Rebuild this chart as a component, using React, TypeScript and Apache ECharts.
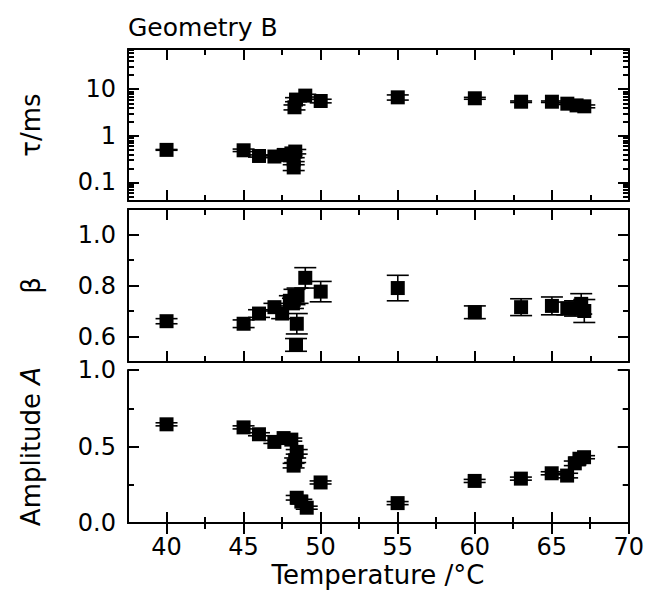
import React, { useEffect, useRef } from "react";
import * as echarts from "echarts";

const FONT = "DejaVu Sans";

// Temperature axis (°C)
const xMin = 37.5;
const xMax = 70;
const xMajorTicks = [40, 45, 50, 55, 60, 65, 70];
const xMinorTicks = [42.5, 47.5, 52.5, 57.5, 62.5, 67.5];

// τ / ms panel (log scale)
const tauTemp = [40, 45, 46, 47, 47.6, 48.1, 48.25, 48.25, 48.35, 48.3, 48.4, 49.0, 50.0, 55, 60, 63, 65, 66, 66.6, 67.1];
const tauValue = [0.5, 0.49, 0.37, 0.36, 0.39, 0.42, 0.31, 0.21, 0.46, 4.1, 6.0, 7.3, 5.6, 6.7, 6.4, 5.4, 5.4, 4.9, 4.5, 4.3];
const tauError = [0.01, 0.03, 0.02, 0.02, 0.03, 0.04, 0.03, 0.03, 0.05, 0.5, 0.6, 0.5, 0.5, 0.85, 0.3, 0.2, 0.2, 0.2, 0.3, 0.3];
const tauMin = 0.04;
const tauMax = 73;
const tauMajorTicks = [0.1, 1, 10];
const tauMinorTicks = [0.05, 0.06, 0.07, 0.08, 0.09, 0.2, 0.3, 0.4, 0.5, 0.6, 0.7, 0.8, 0.9, 2, 3, 4, 5, 6, 7, 8, 9, 20, 30, 40, 50, 60, 70];

// β panel
const betaTemp = [40, 45, 46, 47, 47.5, 48.0, 48.2, 48.3, 48.5, 48.45, 48.4, 49.0, 50.0, 55, 60, 63, 65, 66, 66.5, 66.9, 67.1];
const betaValue = [0.66, 0.65, 0.69, 0.715, 0.69, 0.74, 0.73, 0.755, 0.76, 0.65, 0.567, 0.83, 0.776, 0.79, 0.695, 0.715, 0.72, 0.71, 0.71, 0.728, 0.7];
const betaError = [0.01, 0.015, 0.015, 0.015, 0.02, 0.02, 0.02, 0.03, 0.03, 0.04, 0.025, 0.04, 0.04, 0.05, 0.025, 0.033, 0.035, 0.025, 0.03, 0.04, 0.045];
const betaMin = 0.5;
const betaMax = 1.1;
const betaMajorTicks = [0.6, 0.8, 1.0];
const betaMinorTicks = [0.7, 0.9];

// Amplitude A panel
const ampTemp = [40, 45, 46, 47, 47.6, 48.1, 48.45, 48.35, 48.25, 48.45, 48.75, 49.1, 50.0, 55, 60, 63, 65, 66, 66.5, 66.8, 67.1];
const ampValue = [0.645, 0.625, 0.58, 0.53, 0.555, 0.545, 0.465, 0.41, 0.375, 0.165, 0.14, 0.1, 0.265, 0.13, 0.275, 0.29, 0.325, 0.31, 0.39, 0.42, 0.43];
const ampError = [0.01, 0.01, 0.01, 0.01, 0.01, 0.01, 0.015, 0.015, 0.015, 0.015, 0.015, 0.01, 0.01, 0.01, 0.01, 0.01, 0.01, 0.015, 0.015, 0.01, 0.01];
const ampMin = 0;
const ampMax = 1;
const ampMajorTicks = [0, 0.5, 1.0];
const ampMinorTicks = [0.25, 0.75];

const BLACK = "#000";
const lineStyle = { color: BLACK, width: 2 };

const grids = [
  { left: 128, right: 18, top: 49, height: 152 },
  { left: 128, right: 18, top: 209, height: 153 },
  { left: 128, right: 18, top: 370, height: 153 },
];

function makeXAxes(g: number, showLabels: boolean) {
  const base = { type: "value", gridIndex: g, min: xMin, max: xMax, splitLine: { show: false } };
  const axes: any[] = [];
  for (const position of ["bottom", "top"]) {
    axes.push({
      ...base,
      position,
      axisLine: { show: true, lineStyle },
      axisTick: { show: true, inside: true, length: 11, customValues: xMajorTicks, lineStyle },
      axisLabel: {
        show: showLabels && position === "bottom",
        customValues: xMajorTicks,
        margin: 12,
        fontFamily: FONT,
        fontSize: 24,
        color: BLACK,
      },
    });
    axes.push({
      ...base,
      position,
      axisLine: { show: false },
      axisTick: { show: true, inside: true, length: 6, customValues: xMinorTicks, lineStyle },
      axisLabel: { show: false },
    });
  }
  return axes;
}

function makeYAxes(
  g: number,
  type: string,
  min: number,
  max: number,
  major: number[],
  minor: number[],
  fmt: (v: number) => string,
  name: string,
  nameStyle: any
) {
  const base: any = { type, gridIndex: g, min, max, splitLine: { show: false } };
  if (type === "log") base.logBase = 10;
  const axes: any[] = [];
  for (const position of ["left", "right"]) {
    const isLeft = position === "left";
    axes.push({
      ...base,
      position,
      name: isLeft ? name : "",
      nameLocation: "middle",
      nameRotate: 90,
      nameGap: 84,
      nameTextStyle: nameStyle,
      axisLine: { show: true, lineStyle },
      axisTick: { show: true, inside: true, length: 11, customValues: major, lineStyle },
      axisLabel: {
        show: isLeft,
        customValues: major,
        formatter: (v: number) => fmt(v),
        margin: 12,
        fontFamily: FONT,
        fontSize: 24,
        color: BLACK,
      },
    });
    axes.push({
      ...base,
      position,
      axisLine: { show: false },
      axisTick: { show: true, inside: true, length: 6, customValues: minor, lineStyle },
      axisLabel: { show: false },
    });
  }
  return axes;
}

function errorBars(g: number, temps: number[], vals: number[], errs: number[]) {
  return {
    type: "custom",
    xAxisIndex: g * 4,
    yAxisIndex: g * 4,
    silent: true,
    z: 1,
    encode: { x: 0, y: [1, 2] },
    data: temps.map((t, i) => [t, vals[i] - errs[i], vals[i] + errs[i]]),
    renderItem: (_params: any, api: any) => {
      const x = api.value(0);
      const lo = api.coord([x, api.value(1)]);
      const hi = api.coord([x, api.value(2)]);
      const hw = 11;
      const st = { stroke: BLACK, lineWidth: 1.6, fill: null };
      return {
        type: "group",
        children: [
          { type: "line", shape: { x1: lo[0], y1: lo[1], x2: hi[0], y2: hi[1] }, style: st },
          { type: "line", shape: { x1: lo[0] - hw, y1: lo[1], x2: lo[0] + hw, y2: lo[1] }, style: st },
          { type: "line", shape: { x1: hi[0] - hw, y1: hi[1], x2: hi[0] + hw, y2: hi[1] }, style: st },
        ],
      };
    },
  };
}

function markers(g: number, temps: number[], vals: number[]) {
  return {
    type: "scatter",
    xAxisIndex: g * 4,
    yAxisIndex: g * 4,
    symbol: "rect",
    symbolSize: 14,
    z: 2,
    itemStyle: { color: BLACK, opacity: 1 },
    data: temps.map((t, i) => [t, vals[i]]),
  };
}

export default function App() {
  const ref = useRef<HTMLDivElement>(null);
  useEffect(() => {
    if (!ref.current) return;
    const chart = echarts.init(ref.current, null, { renderer: "svg" });
    const nameStyle = { fontFamily: FONT, fontSize: 26, color: BLACK };
    const option: any = {
      animation: false,
      backgroundColor: "#fff",
      grid: grids,
      xAxis: [...makeXAxes(0, false), ...makeXAxes(1, false), ...makeXAxes(2, true)],
      yAxis: [
        ...makeYAxes(0, "log", tauMin, tauMax, tauMajorTicks, tauMinorTicks, (v) => String(+v.toPrecision(3)), "τ/ms", nameStyle),
        ...makeYAxes(1, "value", betaMin, betaMax, betaMajorTicks, betaMinorTicks, (v) => v.toFixed(1), "β", nameStyle),
        ...makeYAxes(2, "value", ampMin, ampMax, ampMajorTicks, ampMinorTicks, (v) => v.toFixed(1), "Amplitude {it|A}", {
          ...nameStyle,
          rich: { it: { fontFamily: FONT, fontSize: 26, fontStyle: "italic", color: BLACK } },
        }),
      ],
      graphic: [
        {
          type: "text",
          x: 128,
          y: 27,
          style: { text: "Geometry B", fontFamily: FONT, fontSize: 25, fill: BLACK, textAlign: "left", textVerticalAlign: "middle" },
        },
        {
          type: "text",
          x: 378,
          y: 575,
          style: { text: "Temperature /°C", fontFamily: FONT, fontSize: 26, fill: BLACK, textAlign: "center", textVerticalAlign: "middle" },
        },
      ],
      series: [
        errorBars(0, tauTemp, tauValue, tauError),
        markers(0, tauTemp, tauValue),
        errorBars(1, betaTemp, betaValue, betaError),
        markers(1, betaTemp, betaValue),
        errorBars(2, ampTemp, ampValue, ampError),
        markers(2, ampTemp, ampValue),
      ],
    };
    chart.setOption(option);
    return () => chart.dispose();
  }, []);
  return <div ref={ref} style={{ position: "fixed", left: 0, top: 0, width: 647, height: 592, background: "#fff" }} />;
}
